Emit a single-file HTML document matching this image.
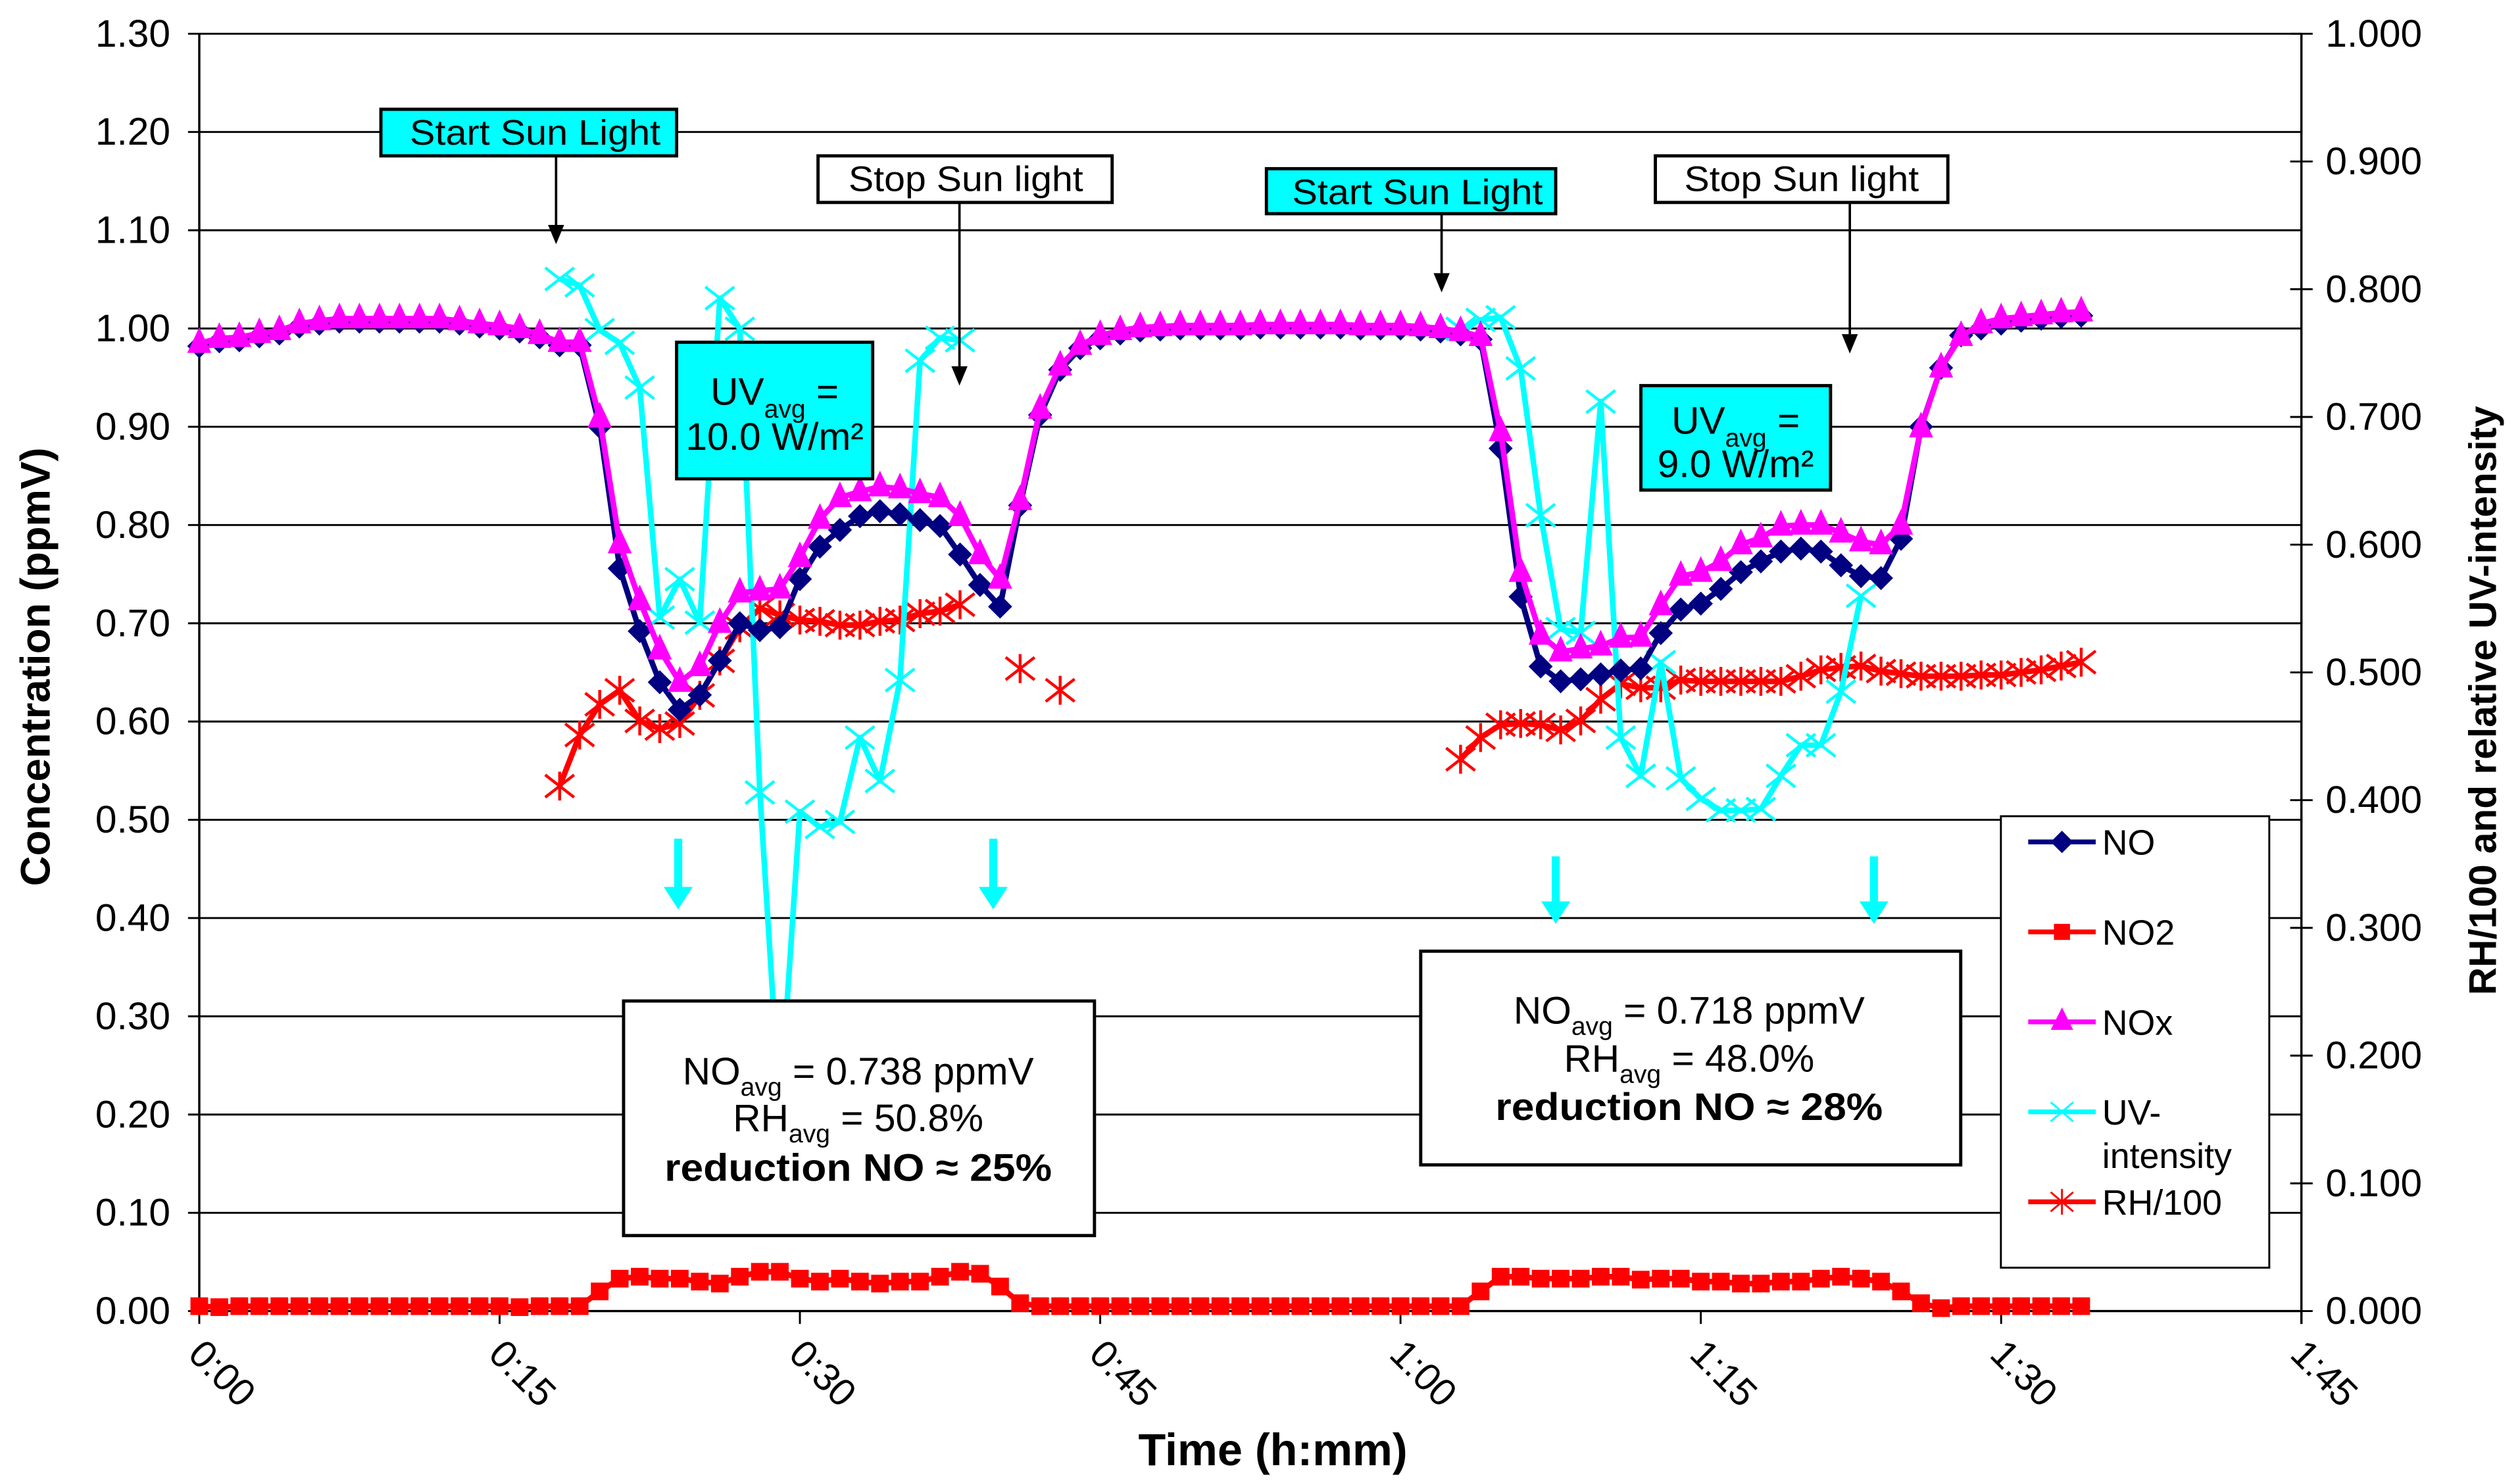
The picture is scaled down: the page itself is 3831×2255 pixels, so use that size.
<!DOCTYPE html>
<html><head><meta charset="utf-8">
<style>
html,body{margin:0;padding:0;background:#fff;}
svg{display:block;}
text{font-family:"Liberation Sans",Arial,sans-serif;}
</style></head>
<body>
<svg id="chart" xmlns="http://www.w3.org/2000/svg" width="3831" height="2255" viewBox="0 0 1568 923" preserveAspectRatio="none">
<rect x="0" y="0" width="1568" height="923" fill="#fff"/>
<g id="grid"></g>
<g id="axes"></g>
<g id="series"></g>
<g id="annot">
  <g>
    <rect x="237" y="68" width="184" height="29" fill="#00ffff" stroke="#000" stroke-width="2"/>
    <text x="333" y="90" font-size="22" text-anchor="middle" textLength="156" lengthAdjust="spacingAndGlyphs">Start Sun Light</text>
    <line x1="346" y1="97" x2="346" y2="140" stroke="#000" stroke-width="1.5"/>
    <polygon points="341,140 351,140 346,152" fill="#000"/>
  </g>
  <g>
    <rect x="509" y="97" width="183" height="29" fill="#fff" stroke="#000" stroke-width="2"/>
    <text x="601" y="119" font-size="22" text-anchor="middle" textLength="146" lengthAdjust="spacingAndGlyphs">Stop Sun light</text>
    <line x1="597" y1="126" x2="597" y2="228" stroke="#000" stroke-width="1.5"/>
    <polygon points="592,228 602,228 597,240" fill="#000"/>
  </g>
  <g>
    <rect x="788" y="105" width="180" height="28" fill="#00ffff" stroke="#000" stroke-width="2"/>
    <text x="882" y="127" font-size="22" text-anchor="middle" textLength="156" lengthAdjust="spacingAndGlyphs">Start Sun Light</text>
    <line x1="897" y1="133" x2="897" y2="170" stroke="#000" stroke-width="1.5"/>
    <polygon points="892,170 902,170 897,182" fill="#000"/>
  </g>
  <g>
    <rect x="1030" y="97" width="182" height="29" fill="#fff" stroke="#000" stroke-width="2"/>
    <text x="1121" y="119" font-size="22" text-anchor="middle" textLength="146" lengthAdjust="spacingAndGlyphs">Stop Sun light</text>
    <line x1="1151" y1="126" x2="1151" y2="208" stroke="#000" stroke-width="1.5"/>
    <polygon points="1146,208 1156,208 1151,220" fill="#000"/>
  </g>
  <g>
    <rect x="421" y="213" width="122" height="85" fill="#00ffff" stroke="#000" stroke-width="2"/>
    <text x="482" y="252" font-size="24" text-anchor="middle">UV<tspan font-size="16" dy="8">avg</tspan><tspan dy="-8"> =</tspan></text>
    <text x="482" y="280" font-size="24" text-anchor="middle">10.0 W/m²</text>
  </g>
  <g>
    <rect x="1021" y="240" width="118" height="65" fill="#00ffff" stroke="#000" stroke-width="2"/>
    <text x="1080" y="270" font-size="24" text-anchor="middle">UV<tspan font-size="16" dy="8">avg</tspan><tspan dy="-8"> =</tspan></text>
    <text x="1080" y="297" font-size="24" text-anchor="middle">9.0 W/m²</text>
  </g>
  <g fill="#00ffff" stroke="none">
    <rect x="419.5" y="522" width="5" height="32"/><polygon points="413,552 431,552 422,566"/>
    <rect x="615.5" y="522" width="5" height="32"/><polygon points="609,552 627,552 618,566"/>
    <rect x="965.5" y="533" width="5" height="30"/><polygon points="959,561 977,561 968,575"/>
    <rect x="1163.5" y="533" width="5" height="30"/><polygon points="1157,561 1175,561 1166,575"/>
  </g>
  <g>
    <rect x="388" y="623" width="293" height="146" fill="#fff" stroke="#000" stroke-width="2"/>
    <text x="534" y="675" font-size="24" text-anchor="middle">NO<tspan font-size="16" dy="7">avg</tspan><tspan dy="-7"> = 0.738 ppmV</tspan></text>
    <text x="534" y="704" font-size="24" text-anchor="middle">RH<tspan font-size="16" dy="7">avg</tspan><tspan dy="-7"> = 50.8%</tspan></text>
    <text x="534" y="735" font-size="24" font-weight="bold" text-anchor="middle" textLength="241" lengthAdjust="spacingAndGlyphs">reduction NO ≈ 25%</text>
  </g>
  <g>
    <rect x="884" y="592" width="336" height="133" fill="#fff" stroke="#000" stroke-width="2"/>
    <text x="1051" y="637" font-size="24" text-anchor="middle">NO<tspan font-size="16" dy="7">avg</tspan><tspan dy="-7"> = 0.718 ppmV</tspan></text>
    <text x="1051" y="667" font-size="24" text-anchor="middle">RH<tspan font-size="16" dy="7">avg</tspan><tspan dy="-7"> = 48.0%</tspan></text>
    <text x="1051" y="697" font-size="24" font-weight="bold" text-anchor="middle" textLength="241" lengthAdjust="spacingAndGlyphs">reduction NO ≈ 28%</text>
  </g>
</g>
<g id="legend">
  <rect x="1245" y="508" width="167" height="281" fill="#fff" stroke="#000" stroke-width="1.2"/>
  <g>
    <line x1="1262" y1="524" x2="1304" y2="524" stroke="#000080" stroke-width="3"/>
    <polygon points="1283,517 1290,524 1283,531 1276,524" fill="#000080"/>
    <text x="1308" y="532" font-size="22">NO</text>
  </g>
  <g>
    <line x1="1262" y1="580" x2="1304" y2="580" stroke="#ff0000" stroke-width="3"/>
    <rect x="1278" y="575" width="10" height="10" fill="#ff0000"/>
    <text x="1308" y="588" font-size="22">NO2</text>
  </g>
  <g>
    <line x1="1262" y1="636" x2="1304" y2="636" stroke="#ff00ff" stroke-width="3"/>
    <polygon points="1283,627 1290,641 1276,641" fill="#ff00ff"/>
    <text x="1308" y="644" font-size="22">NOx</text>
  </g>
  <g>
    <line x1="1262" y1="692" x2="1304" y2="692" stroke="#00ffff" stroke-width="3"/>
    <path d="M1276,686 L1290,698 M1276,698 L1290,686" stroke="#00ffff" stroke-width="1.2"/>
    <text x="1308" y="700" font-size="22">UV-</text>
    <text x="1308" y="727" font-size="22">intensity</text>
  </g>
  <g>
    <line x1="1262" y1="748" x2="1304" y2="748" stroke="#ff0000" stroke-width="3"/>
    <path d="M1276,742 L1290,754 M1276,754 L1290,742 M1283,740 L1283,756" stroke="#ff0000" stroke-width="1.2"/>
    <text x="1308" y="756" font-size="22">RH/100</text>
  </g>
</g>
<text x="0" y="0" font-size="26" font-weight="bold" text-anchor="middle" transform="translate(31,415) rotate(-90)">Concentration (ppmV)</text>
<text x="0" y="0" font-size="24" font-weight="bold" text-anchor="middle" transform="translate(1553,436) rotate(-90)">RH/100 and relative UV-intensity</text>
<text x="792" y="912" font-size="28" font-weight="bold" text-anchor="middle">Time (h:mm)</text>
</svg>
<script>
// ---- data ----
const xTickLabels = ["0:00","0:15","0:30","0:45","1:00","1:15","1:30","1:45"];
const xTickValues = [0,15,30,45,60,75,90,105];
const yTickValues = [0,0.1,0.2,0.3,0.4,0.5,0.6,0.7,0.8,0.9,1.0,1.1,1.2,1.3];
const yTickLabels = ["0.00","0.10","0.20","0.30","0.40","0.50","0.60","0.70","0.80","0.90","1.00","1.10","1.20","1.30"];
const y2TickValues = [0,0.1,0.2,0.3,0.4,0.5,0.6,0.7,0.8,0.9,1.0];
const y2TickLabels = ["0.000","0.100","0.200","0.300","0.400","0.500","0.600","0.700","0.800","0.900","1.000"];

// NO (ppmV), one value per minute from t=0
const noValues = [0.982,0.987,0.988,0.992,0.995,1.002,1.005,1.007,1.007,1.007,1.007,1.007,1.007,1.005,1.002,1.000,0.997,0.991,0.983,0.983,
0.900,0.756,0.692,0.640,0.612,0.627,0.662,0.700,0.693,0.696,0.745,0.778,0.795,0.809,0.814,0.811,0.805,0.799,0.770,0.739,0.717,
0.820,0.912,0.958,0.980,0.990,0.995,0.998,0.999,1.000,1.000,1.000,1.000,1.001,1.001,1.001,1.001,1.001,1.000,1.000,1.000,0.999,0.997,0.994,0.989,
0.878,0.727,0.656,0.641,0.643,0.648,0.652,0.654,0.690,0.714,0.720,0.735,0.752,0.763,0.773,0.776,0.773,0.759,0.748,0.746,0.786,
0.900,0.960,0.993,1.000,1.005,1.008,1.010,1.012,1.013];
// NOx (ppmV)
const noxValues = [0.985,0.990,0.991,0.995,0.998,1.005,1.008,1.010,1.010,1.010,1.010,1.010,1.010,1.008,1.005,1.003,1.000,0.994,0.986,0.986,
0.909,0.781,0.723,0.673,0.640,0.656,0.700,0.731,0.733,0.735,0.767,0.806,0.828,0.834,0.839,0.837,0.832,0.828,0.809,0.770,0.745,
0.825,0.918,0.962,0.983,0.993,0.998,1.001,1.002,1.003,1.003,1.003,1.003,1.004,1.004,1.004,1.004,1.004,1.003,1.003,1.003,1.002,1.000,0.997,0.992,
0.895,0.752,0.688,0.671,0.674,0.677,0.685,0.686,0.718,0.748,0.752,0.763,0.780,0.787,0.799,0.800,0.800,0.792,0.783,0.780,0.800,
0.899,0.960,0.992,1.005,1.010,1.012,1.014,1.016,1.017];
// NO2 (ppmV)
const no2Values = [0.005,0.004,0.005,0.005,0.005,0.005,0.005,0.005,0.005,0.005,0.005,0.005,0.005,0.005,0.005,0.005,0.004,0.005,0.005,0.005,
0.020,0.033,0.035,0.033,0.033,0.030,0.028,0.035,0.040,0.040,0.033,0.030,0.033,0.030,0.028,0.030,0.030,0.035,0.040,0.038,0.025,
0.008,0.005,0.005,0.005,0.005,0.005,0.005,0.005,0.005,0.005,0.005,0.005,0.005,0.005,0.005,0.005,0.005,0.005,0.005,0.005,0.005,0.005,0.005,0.020,
0.035,0.035,0.033,0.033,0.033,0.035,0.035,0.032,0.033,0.033,0.030,0.030,0.028,0.028,0.030,0.030,0.033,0.035,0.033,0.030,0.020,
0.008,0.003,0.005,0.005,0.005,0.005,0.005,0.005,0.005];
// UV relative intensity (right axis), two segments
const uv1Start = 18;
const uv1Values = [0.808,0.803,0.768,0.758,0.723,0.543,0.573,0.539,0.793,0.769,0.406,0.158,0.391,0.379,0.383,0.449,0.415,0.494,0.744,0.762,0.760];
const uv2Start = 63;
const uv2Values = [0.769,0.776,0.778,0.738,0.623,0.534,0.531,0.712,0.449,0.419,0.508,0.417,0.401,0.392,0.392,0.393,0.419,0.443,0.443,0.485,0.560];
// RH/100 (right axis)
const rh1Start = 18;
const rh1Values = [0.411,0.451,0.475,0.486,0.462,0.456,0.460,0.482,0.509,0.535,0.550,0.545,0.541,0.540,0.537,0.537,0.540,0.541,0.546,0.548,0.553];
const rhIsoTimes = [41,43];
const rhIsoValues = [0.503,0.486];
const rh2Start = 63;
const rh2Values = [0.432,0.449,0.459,0.460,0.459,0.455,0.462,0.479,0.491,0.488,0.488,0.494,0.493,0.493,0.493,0.493,0.493,0.497,0.502,0.504,0.505,0.501,0.499,0.497,0.497,0.497,0.498,0.498,0.500,0.502,0.505,0.508];

// ---- axes ----
const X0=124, X1=1432, Y0=816, Y1=21;
const xs = t => X0 + (t/105)*(X1-X0);
const ys = v => Y0 - (v/1.3)*(Y0-Y1);
const ys2 = v => Y0 - v*(Y0-Y1);
const NS="http://www.w3.org/2000/svg";
function mk(tag, attrs, parent){ const e=document.createElementNS(NS,tag); for(const k in attrs) e.setAttribute(k,attrs[k]); parent.appendChild(e); return e; }

const grid=document.getElementById('grid'), axes=document.getElementById('axes'), ser=document.getElementById('series');
yTickValues.forEach((v,i)=>{
  if(i>0){ const g=mk('line',{x1:X0,x2:X1,y1:ys(v),y2:ys(v),stroke:'#000','stroke-width':1.2},grid);
  
   }
  mk('line',{x1:X0-7,x2:X0,y1:ys(v),y2:ys(v),stroke:'#000','stroke-width':1.2},axes);
  const t=mk('text',{x:106,y:ys(v)+8,'font-size':24,'text-anchor':'end'},axes);
  t.textContent=yTickLabels[i];
  
  
});
y2TickValues.forEach((v,i)=>{
  mk('line',{x1:X1-7,x2:X1+7,y1:ys2(v),y2:ys2(v),stroke:'#000','stroke-width':1.2},axes);
  const t=mk('text',{x:1447,y:ys2(v)+8,'font-size':24},axes);
  t.textContent=y2TickLabels[i];
  
  
});
xTickValues.forEach((v,i)=>{
  mk('line',{x1:xs(v),x2:xs(v),y1:Y0,y2:Y0+8,stroke:'#000','stroke-width':1.2},axes);
  const t=mk('text',{x:0,y:0,'font-size':24,transform:`translate(${xs(v)-8},${Y0+28}) rotate(45)`},axes);
  t.textContent=xTickLabels[i];
  
  
});
const al=mk('line',{x1:X0,x2:X0,y1:Y1,y2:Y0,stroke:'#000','stroke-width':1.4},axes);


const ar=mk('line',{x1:X1,x2:X1,y1:Y1,y2:Y0+8,stroke:'#000','stroke-width':1.4},axes);


const ab=mk('line',{x1:X0,x2:X1,y1:Y0,y2:Y0,stroke:'#000','stroke-width':1.4},axes);



// ---- series ----
function poly(pts,color,name){
  const p=mk('polyline',{points:pts.map(q=>q.join(',')).join(' '),fill:'none',stroke:color,'stroke-width':3.5,'stroke-linejoin':'round'},ser);
  
  
}
function marker(type,x,y,color,name){
  let e;
  if(type==='diamond') e=mk('polygon',{points:`${x},${y-7.5} ${x+7.5},${y} ${x},${y+7.5} ${x-7.5},${y}`,fill:color},ser);
  else if(type==='square') e=mk('rect',{x:x-5.5,y:y-5.5,width:11,height:11,fill:color},ser);
  else if(type==='tri') e=mk('polygon',{points:`${x},${y-10} ${x+7.5},${y+6} ${x-7.5},${y+6}`,fill:color},ser);
  else if(type==='x') e=mk('path',{d:`M${x-9},${y-7}L${x+9},${y+7}M${x-9},${y+7}L${x+9},${y-7}`,stroke:color,'stroke-width':1.8},ser);
  else e=mk('path',{d:`M${x-9},${y-7}L${x+9},${y+7}M${x-9},${y+7}L${x+9},${y-7}M${x},${y-9}L${x},${y+9}`,stroke:color,'stroke-width':1.8},ser);
  
  
}
function series(start,vals,scale,color,type,name){
  const pts=vals.map((v,i)=>[xs(start+i),scale(v)]);
  poly(pts,color,name+'-line');
  pts.forEach(p=>marker(type,p[0],p[1],color,name+'-point'));
}
series(0,no2Values,ys,'#ff0000','square','no2');
series(rh1Start,rh1Values,ys2,'#ff0000','star','rh');
series(rh2Start,rh2Values,ys2,'#ff0000','star','rh');
rhIsoTimes.forEach((t,i)=>marker('star',xs(t),ys2(rhIsoValues[i]),'#ff0000','rh-point'));
series(uv1Start,uv1Values,ys2,'#00ffff','x','uv');
series(uv2Start,uv2Values,ys2,'#00ffff','x','uv');
series(0,noValues,ys,'#000080','diamond','no');
series(0,noxValues,ys,'#ff00ff','tri','nox');
</script>
</body></html>
